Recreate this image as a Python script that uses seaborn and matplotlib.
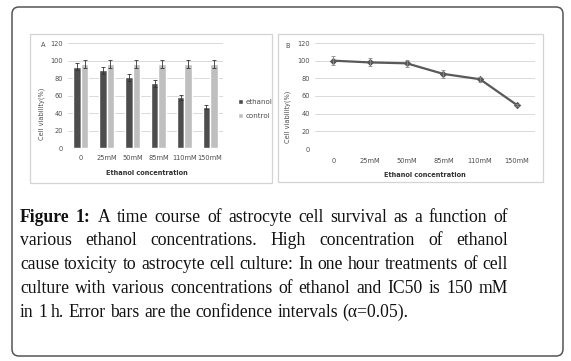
import numpy as np
import pandas as pd
import matplotlib
matplotlib.use('Agg')
import matplotlib.pyplot as plt
import seaborn as sns
from matplotlib.patches import FancyBboxPatch, Rectangle

# ---------------- data ----------------
categories = ['0', '25mM', '50mM', '85mM', '110mM', '150mM']
ethanol_mean = [93, 89, 81, 74, 58, 47]
ethanol_err = [4, 4, 4, 4, 3, 2]
control_mean = [96, 96, 96, 96, 96, 96]
control_err = [5, 5, 5, 5, 5, 5]
group_names = ['ethanol', 'control']
viability_b = [100, 98, 97, 85, 79, 50]
viability_b_err = [5, 4.5, 4, 4.5, 3, 1]
yticks = [0, 20, 40, 60, 80, 100, 120]
caption_lines = [
    "A time course of astrocyte cell survival as a function of",
    "various ethanol concentrations. High concentration of ethanol",
    "cause toxicity to astrocyte cell culture: In one hour treatments of cell",
    "culture with various concentrations of ethanol and IC50 is 150 mM",
    "in 1 h. Error bars are the confidence intervals (α=0.05).",
]
caption_bold = "Figure 1:"

# ---------------- style ----------------
sns.set_style('white')
plt.rcParams['font.family'] = ['DejaVu Sans']
W, H = 571, 361
fig = plt.figure(figsize=(W / 100, H / 100), dpi=100)

TXT = '#4d4d4d'
DARK = '#4d4d4d'
LIGHT = '#bfbfbf'
GRID = '#d9d9d9'
FS = 4.8


def ax_rect(x0, y0, x1, y1):
    return [x0 / W, 1 - y1 / H, (x1 - x0) / W, (y1 - y0) / H]


# background axes in pixel coordinates
bg = fig.add_axes([0, 0, 1, 1], zorder=-1)
bg.set_xlim(0, W)
bg.set_ylim(H, 0)
bg.axis('off')
bg.add_patch(FancyBboxPatch((12, 7), 551, 349, boxstyle='round,pad=0,rounding_size=7',
                            fill=False, ec='#555555', lw=1.1))
bg.add_patch(Rectangle((30, 34), 242, 149, fill=False, ec='#d4d4d4', lw=0.9))
bg.add_patch(Rectangle((278, 34), 265, 148, fill=False, ec='#d4d4d4', lw=0.9))


def style_axes(ax):
    for s in ax.spines.values():
        s.set_visible(False)
    ax.set_ylim(0, 120)
    ax.set_yticks(yticks)
    ax.set_xlim(-0.5, len(categories) - 0.5)
    ax.yaxis.grid(True, color=GRID, lw=0.7)
    ax.xaxis.grid(False)
    ax.set_axisbelow(True)
    ax.tick_params(axis='both', length=0, labelsize=FS, colors=TXT)
    ax.tick_params(axis='x', pad=5)
    ax.tick_params(axis='y', pad=3.5)


# ---------------- Panel A ----------------
axA = fig.add_axes(ax_rect(68, 43, 223, 148))
dfA = pd.DataFrame({
    'conc': categories * 2,
    'viability': ethanol_mean + control_mean,
    'group': [group_names[0]] * len(categories) + [group_names[1]] * len(categories),
})
sns.barplot(data=dfA, x='conc', y='viability', hue='group', order=categories,
            hue_order=group_names, palette=[DARK, LIGHT], saturation=1,
            width=0.58, errorbar=None, ax=axA)
for cont, means, errs in zip(axA.containers, [ethanol_mean, control_mean],
                             [ethanol_err, control_err]):
    xs = [b.get_x() + b.get_width() / 2 for b in cont]
    axA.errorbar(xs, means, yerr=errs, fmt='none', ecolor='#333333',
                 elinewidth=0.6, capsize=1.3, capthick=0.6)
style_axes(axA)
handles, labels = axA.get_legend_handles_labels()
axA.legend(handles, labels, loc='center left',
           bbox_to_anchor=(234 / W, 1 - 109 / H), bbox_transform=fig.transFigure,
           frameon=False, fontsize=FS + 0.3, labelcolor=TXT, handlelength=0.8,
           handleheight=0.8, handletextpad=0.3, labelspacing=1.1, borderpad=0)
axA.set_xlabel('Ethanol concentration', fontsize=FS, fontweight='bold', color='#333333')
axA.set_ylabel('Cell viability(%)', fontsize=FS, color=TXT)
axA.xaxis.set_label_coords(0.51, -0.21)
axA.yaxis.set_label_coords(-0.148, 0.33)
fig.text(43 / W, 1 - 45 / H, 'A', fontsize=FS, color=TXT, ha='center', va='center')

# ---------------- Panel B ----------------
axB = fig.add_axes(ax_rect(315, 43, 535, 149))
dfB = pd.DataFrame({'conc': categories, 'viability': viability_b})
sns.pointplot(data=dfB, x='conc', y='viability', order=categories, color='#595959',
              markers='D', errorbar=None, markersize=2.6, linewidth=1.6, ax=axB)
axB.errorbar(list(range(len(categories))), viability_b, yerr=viability_b_err,
             fmt='none', ecolor='#8c8c8c', elinewidth=0.6, capsize=1.5, capthick=0.6)
style_axes(axB)
axB.tick_params(axis='x', pad=6.5)
axB.set_xlabel('Ethanol concentration', fontsize=FS, fontweight='bold', color='#333333')
axB.set_ylabel('Cell viability(%)', fontsize=FS, color=TXT)
axB.xaxis.set_label_coords(0.5, -0.217)
axB.yaxis.set_label_coords(-0.109, 0.30)
fig.text(288 / W, 1 - 46 / H, 'B', fontsize=FS, color=TXT, ha='center', va='center')

# ---------------- Caption (justified) ----------------
CAP_FONT = ['Liberation Serif', 'DejaVu Serif']
CAP_FS = 12.7
x_left, x_right = 20, 508
base0, step = 221.7, 23.75
renderer = fig.canvas.get_renderer()


def word_width(word, bold=False):
    t = bg.text(0, 0, word, fontsize=CAP_FS, family=CAP_FONT,
                fontweight='bold' if bold else 'normal')
    bb = t.get_window_extent(renderer=renderer)
    t.remove()
    return bb.width


space_w = word_width('a b') - word_width('ab')
for i, line in enumerate(caption_lines):
    words = [(w, False) for w in line.split(' ')]
    if i == 0:
        words = [(w, True) for w in caption_bold.split(' ')] + words
    widths = [word_width(w, b) for w, b in words]
    y = base0 + i * step
    if i < len(caption_lines) - 1:
        gap = (x_right - x_left - sum(widths)) / (len(words) - 1)
    else:
        gap = space_w
    x = x_left
    for (w, b), wd in zip(words, widths):
        bg.text(x, y, w, fontsize=CAP_FS, family=CAP_FONT,
                fontweight='bold' if b else 'normal', color='#111111',
                ha='left', va='baseline')
        x += wd + gap

fig.savefig('out.png', dpi=100)
